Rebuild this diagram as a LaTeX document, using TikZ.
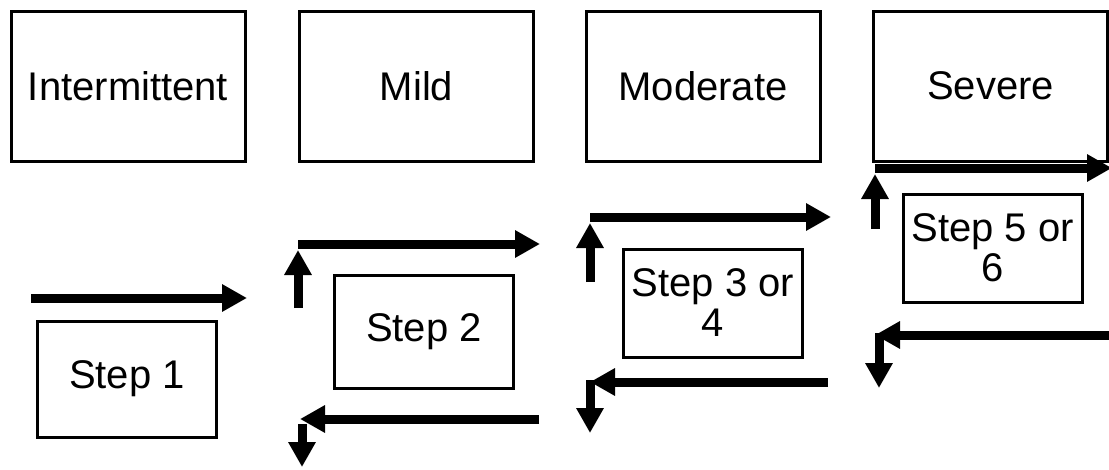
\documentclass[tikz,border=0pt]{standalone}
\usepackage{fontspec}
\setmainfont{Liberation Sans}
\usetikzlibrary{arrows.meta}

\tikzset{
  level/.style={draw, line width=3pt, minimum width=234pt, minimum height=150pt,
    inner sep=0pt, font=\fontsize{40}{40}\selectfont},
  stepbox/.style={draw, line width=3pt, minimum width=179pt, minimum height=113pt,
    inner sep=0pt, align=center, font=\fontsize{40}{40}\selectfont},
  flow/.style={line width=9pt, -{Triangle[length=25pt,width=26pt]}}
}

\begin{document}
\begin{tikzpicture}[x=1pt, y=-1pt]
  \useasboundingbox (0,0) rectangle (1109,469);

  % severity levels
  \node[level] (int) at (128,86)   {Intermittent};
  \node[level] (mil) at (416.5,86) {Mild};
  \node[level] (mod) at (703,86)   {Moderate};
  \node[level] (sev) at (990.5,86) {Severe};

  % treatment steps
  \node[stepbox, minimum height=116pt] (s1) at (127,379) {Step 1};
  \node[stepbox] (s2) at (424,332) {Step 2};
  \node[stepbox, minimum height=108pt] (s3) at (713,303) {Step 3 or\\4};
  \node[stepbox, minimum height=108pt] (s5) at (992.5,248) {Step 5 or\\6};

  % step-up path
  \coordinate (a0) at (31,298);   \coordinate (a1) at (247,298);
  \coordinate (b0) at (298,308);  \coordinate (b1) at (298,250);
  \coordinate (b2) at (298,244);  \coordinate (b3) at (540,244);
  \coordinate (c0) at (590,282);  \coordinate (c1) at (590,223);
  \coordinate (c2) at (590,217);  \coordinate (c3) at (831,217);
  \coordinate (d0) at (875,229);  \coordinate (d1) at (875,174);
  \coordinate (d2) at (875,168);  \coordinate (d3) at (1112,168);

  \draw[flow] (a0) -- (a1);
  \draw[flow] (b0) -- (b1);
  \draw[flow] (b2) -- (b3);
  \draw[flow] (c0) -- (c1);
  \draw[flow] (c2) -- (c3);
  \draw[flow] (d0) -- (d1);
  \draw[flow] (d2) -- (d3);

  % step-down path
  \coordinate (e0) at (1109,335); \coordinate (e1) at (875,335);
  \coordinate (e2) at (879,333);  \coordinate (e3) at (879,388);
  \coordinate (f0) at (828,382);  \coordinate (f1) at (590,382);
  \coordinate (f2) at (590,380);  \coordinate (f3) at (590,433);
  \coordinate (g0) at (539,419);  \coordinate (g1) at (300,419);
  \coordinate (g2) at (302,424);  \coordinate (g3) at (302,467);

  \draw[flow] (e0) -- (e1);
  \draw[flow] (e2) -- (e3);
  \draw[flow] (f0) -- (f1);
  \draw[flow] (f2) -- (f3);
  \draw[flow] (g0) -- (g1);
  \draw[flow] (g2) -- (g3);
\end{tikzpicture}
\end{document}
